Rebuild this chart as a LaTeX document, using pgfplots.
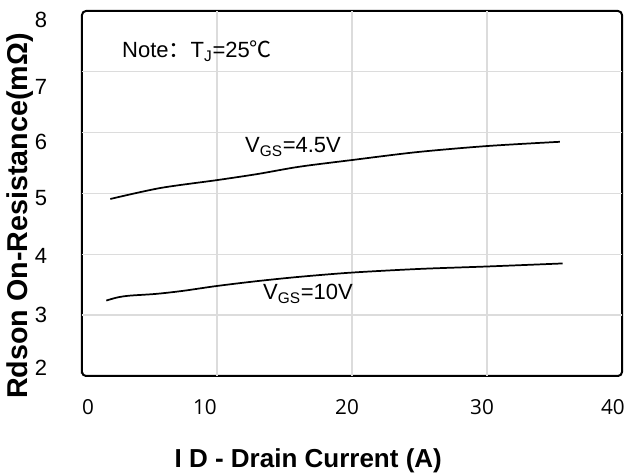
\documentclass[border=0pt]{standalone}
\usepackage{pgfplots}
\pgfplotsset{compat=1.18}
\usepackage{fontspec}
\setmainfont{Liberation Sans}
\newfontfamily\cjk{Noto Sans CJK SC}
\newfontfamily\osans{Open Sans}
\definecolor{gridgray}{RGB}{220,220,220}
\begin{document}
\begin{tikzpicture}
\begin{axis}[
  scale only axis, width=405pt, height=273.75pt,
  xmin=0, xmax=40, ymin=2, ymax=8,
  axis line style={line width=1.5pt, black, rounded corners=3pt},
  xtick={0.44,9.11,19.63,29.63,39.33},
  xticklabels={0,10,20,30,40},
  ytick={2.13,3.0,3.97,4.93,5.85,6.75,7.85},
  yticklabels={2,3,4,5,6,7,8},
  extra x ticks={10,20,30}, extra x tick labels={},
  extra y ticks={3,4,5,6,7}, extra y tick labels={},
  extra tick style={grid=major, major grid style={gridgray, line width=1pt}},
  major tick length=0pt,
  /pgf/number format/assume math mode=true,
  xticklabel style={font=\osans\fontsize{15.5}{16}\selectfont, anchor=center, yshift=-23.25pt},
  yticklabel style={font=\fontsize{16.5}{17}\selectfont, anchor=center, xshift=-30.75pt},
  xlabel={I D - Drain Current (A)},
  xlabel style={font=\bfseries\fontsize{19.5}{20}\selectfont, at={(axis description cs:0.419,-0.2329)}, anchor=center},
  ylabel={Rdson On-Resistance(mΩ)},
  ylabel style={font=\bfseries\fontsize{21.5}{22}\selectfont, at={(axis description cs:-0.1148,0.438)}, anchor=center},
  clip=false,
]
\addplot[black, line width=1.3pt, smooth] coordinates {
  (2.1,4.91) (5.8,5.09) (10,5.22) (13,5.32) (16.1,5.44) (20,5.55) (24.8,5.68) (30,5.78) (35.4,5.85)
};
\addplot[black, line width=1.3pt, smooth] coordinates {
  (1.8,3.24) (2.6,3.29) (3.5,3.32) (5.5,3.35) (7.5,3.40) (10,3.48) (13,3.56) (16.1,3.63) (20,3.70) (25,3.76) (30,3.80) (35.6,3.85)
};
\node[anchor=base west, font=\fontsize{16.5}{17}\selectfont, inner sep=0pt] at (axis cs:2.96,7.23) {Note{\cjk ：}T\textsubscript{J}=25{\cjk ℃}};
\node[anchor=base west, font=\fontsize{16.5}{17}\selectfont, inner sep=0pt] at (axis cs:12.07,5.67) {V\textsubscript{GS}=4.5V};
\node[anchor=base west, font=\fontsize{16.5}{17}\selectfont, inner sep=0pt] at (axis cs:13.4,3.25) {V\textsubscript{GS}=10V};
\end{axis}
\pgfresetboundingbox
\path ([shift={(-61.5pt,-74.25pt)}]current axis.south west) rectangle ([shift={(2.25pt,8.25pt)}]current axis.north east);
\end{tikzpicture}
\end{document}
